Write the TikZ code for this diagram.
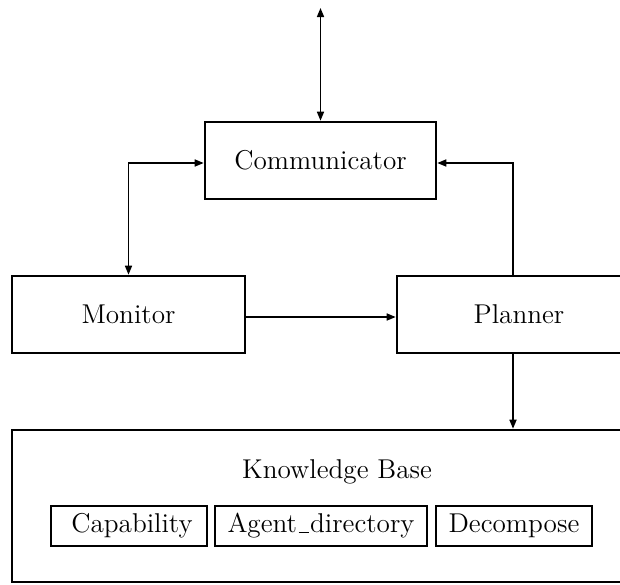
\documentclass[tikz,border=0pt]{standalone}
\usetikzlibrary{arrows.meta}
% underscore drawn as a low rule, as in classic LaTeX
\newcommand{\lowbar}{\leavevmode\kern.06em\rule{.36em}{.5pt}\kern.06em}
\begin{document}
\begin{tikzpicture}[x=0.5pt,y=-0.5pt,
  box/.style={draw,line width=1.3pt,rectangle,inner sep=0pt,anchor=center,font=\fontsize{13.6}{16}\selectfont},
  lbl/.style={inner sep=0pt,font=\fontsize{13.6}{16}\selectfont},
  link/.style={line width=0.8pt,-{Triangle[length=4.5pt,width=3.5pt]}},
  dlink/.style={line width=0.8pt,{Triangle[length=4.5pt,width=3.5pt]}-{Triangle[length=4.5pt,width=3.5pt]}}]
\useasboundingbox (0,0) rectangle (620,584);
% main components
\node[box,minimum width=115.5pt,minimum height=38.5pt] (comm) at (320.5,160.5) {Communicator};
\node[box,minimum width=116.5pt,minimum height=38.5pt] (mon) at (128.5,314.5) {Monitor};
\node[box,minimum width=122pt,minimum height=38.5pt] (pl) at (519,314.5) {Planner};
% knowledge base with its parts
\node[box,minimum width=324pt,minimum height=76pt] (kb) at (336,506) {};
\node[lbl] (kbt) at (337,472) {Knowledge Base};
\node[box,minimum width=78pt,minimum height=20pt] (cap) at (129,526) {\hspace{3pt}Capability};
\node[box,minimum width=106pt,minimum height=20pt] (agd) at (321,526) {Agent\lowbar directory};
\node[box,minimum width=78pt,minimum height=20pt] (dec) at (514,526) {Decompose};
% connectors
\coordinate (ext) at (320.5,8);
\draw[dlink] (ext) -- (comm.north);
\draw[dlink] ([yshift=-1.25pt]comm.west) -| (mon.north);
\draw[link] ([xshift=-3pt]pl.north) |- ([yshift=-1.25pt]comm.east);
\draw[link] ([yshift=-1.25pt]mon.east) -- ([yshift=-1.25pt]pl.west);
\coordinate (pd) at ([xshift=-3pt]pl.south);
\draw[link] (pd) -- (pd |- kb.north);
\end{tikzpicture}
\end{document}
